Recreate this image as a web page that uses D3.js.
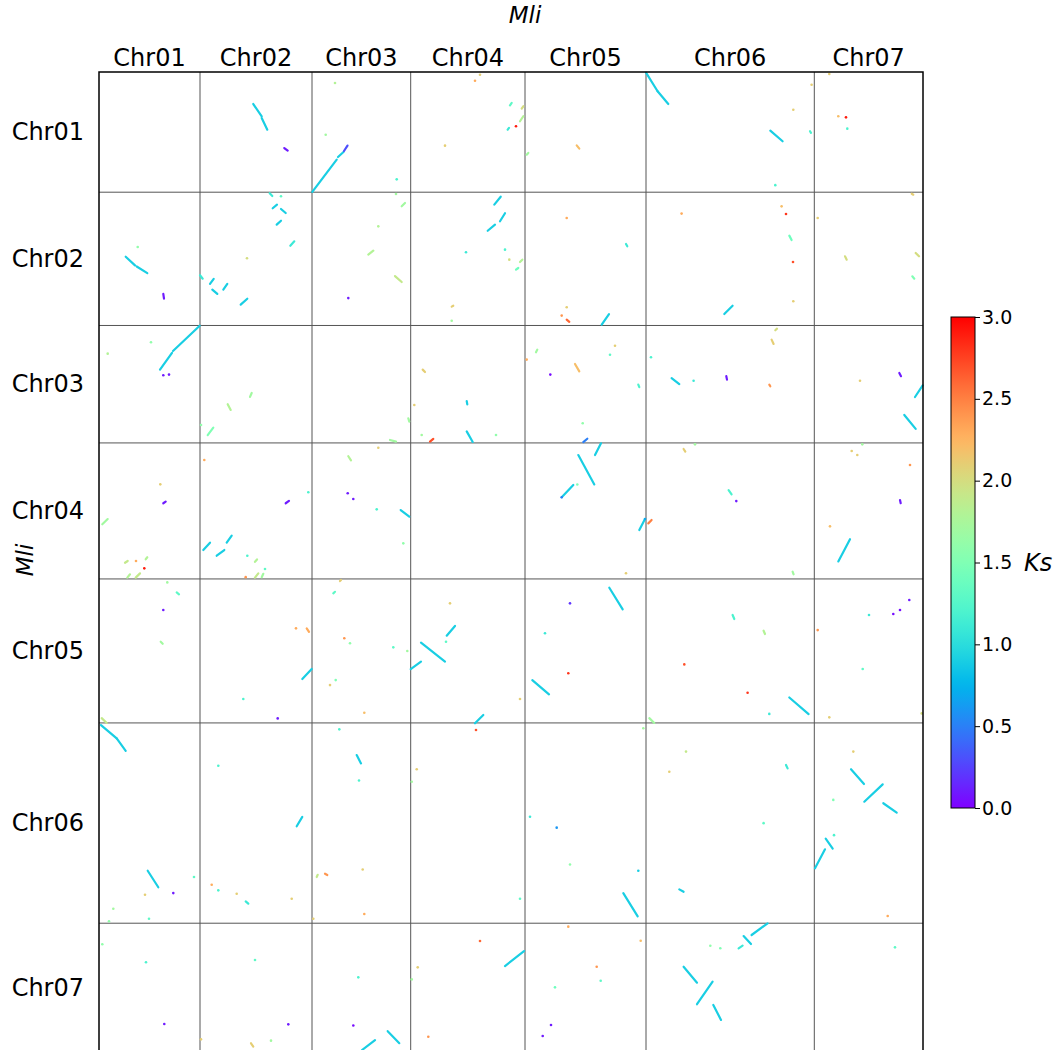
<!DOCTYPE html>
<html>
<head>
<meta charset="utf-8">
<script src="https://cdn.jsdelivr.net/npm/d3@7"></script>
<style>
  body { margin: 0; background: #fff; }
  text { font-family: "DejaVu Sans", sans-serif; fill: #000; }
</style>
</head>
<body>
<div id="chart"></div>
<script>
// Chromosomes of Mli (same order on both axes), lengths in genome units.
const chromosomes = ["Chr01", "Chr02", "Chr03", "Chr04", "Chr05", "Chr06", "Chr07"];
const chrLengths = [101, 112, 98.7, 114.3, 121, 168.3, 108.7];
const ksTicks = [0, 0.5, 1, 1.5, 2, 2.5, 3];

// Collinear blocks: [x chr, y chr, x start, y start, x end, y end, Ks]
const blocks = [
  [2,1,53.3,26.9,61.7,37.2,0.9],[2,1,61.7,38.7,67.3,48.5,0.9],[2,1,84.3,63.9,87.7,66.1,0.1],
  [3,1,0.3,100.8,24.7,73.7,0.9],[3,1,26,71.4,31.5,67.2,0.9],[3,1,32,66.4,35.5,61.8,0.3],
  [4,1,99.3,28,101,26,1.3],[4,1,111,30.8,112.6,28.8,2.0],[4,1,109.3,41.4,112.6,37.2,1.8],[4,1,97,48.5,98.3,47,1.1],
  [5,1,51.7,61.6,54.3,64.4,2.2],[5,1,1.7,69.5,3.3,68,1.7],
  [6,1,0,0.5,11.6,16.2,0.9],[6,1,11.6,16.2,22.3,26.9,0.9],[6,1,124.3,49.3,136.6,58.2,0.9],[6,1,164,49.8,165,51.2,1.2],
  [1,2,26.7,54.2,36,61.5,0.9],[1,2,37.7,62.4,48.3,68,0.9],[1,2,64.3,85.5,65,89.5,0.1],
  [2,2,69.7,0.9,72.3,3.2,1.1],[2,2,72.7,13.5,77,10.5,0.9],[2,2,81,14.1,85.7,17.5,0.9],[2,2,76.7,27.3,81,24,0.9],
  [2,2,90.3,45,94.3,41.3,1.1],[2,2,0,69.8,2.7,72.7,1.1],[2,2,10,77.1,13.7,72.9,0.9],[2,2,12.3,81.9,17.3,85.5,0.9],
  [2,2,23.3,81.9,27.3,77.1,0.9],[2,2,40.7,94.5,47.3,89.5,0.9],
  [3,2,56.3,52.5,61.3,49.2,1.8],[3,2,89.7,11.8,93,9.1,1.7],[3,2,83,70.5,89.7,75.5,1.9],
  [4,2,83.6,10.5,90,3.8,0.9],[4,2,89.3,24.4,94.3,17.7,0.9],[4,2,77,32.4,84.3,27.3,0.9],
  [4,2,109.3,58.7,111.6,56.7,1.8],[4,2,105.3,65.1,107.6,63.7,1.4],[4,2,41,96.2,42.6,95.4,2.1],
  [5,2,101,43.5,102.3,45.5,1.1],[5,2,41.7,107.1,44.3,109,2.6],[5,2,76.7,111.3,84,102.4,0.9],
  [6,2,143.3,36.5,145.6,40.2,1.4],[6,2,78.3,102.4,86.6,95.4,0.9],
  [7,2,97.4,1.3,99,2.1,2.1],[7,2,30.7,53.9,32.4,56.7,2.0],[7,2,101.4,51.1,104.7,53.9,2.0],[7,2,98,70.7,100,72.7,1.5],
  [1,3,61,37.1,73,23,0.9],[1,3,74,21.5,100.7,0.2,0.9],
  [2,3,27.7,66.2,30.7,71,1.8],[2,3,50,60,51.7,56.7,1.7],[2,3,7.7,92.1,13.3,85.9,1.5],
  [3,3,96.3,78,97.3,80.8,1.7],[3,3,78,96.2,84,97.6,1.7],
  [4,3,12,37.1,14.3,39.1,2.1],[4,3,19.3,97.6,22.6,95.3,2.7],[4,3,56,63.5,56.6,66.3,0.9],[4,3,56,89,62,97.9,0.9],
  [5,3,11,22.5,12.3,20.3,1.7],[5,3,50,32.4,54.3,38.6,2.2],[5,3,113.3,49.7,114.3,51.9,1.2],[5,3,58.3,98,62.3,95.2,0.5],
  [6,3,129.3,4,131,2.7,2.0],[6,3,125.6,11.9,127.6,15.5,2.1],[6,3,25.6,44.2,33.3,49.2,0.9],[6,3,80.3,42.6,81,45.5,0.1],
  [6,3,123.3,49.7,124.3,51.1,2.4],
  [7,3,85,39.9,86.7,42.6,0.1],[7,3,100.7,60.1,108.4,50.4,0.9],[7,3,90,75.2,101.4,86.9,0.9],
  [1,4,64.3,50.7,66.7,49.3,0.1],[1,4,3.3,68.4,8.7,64,1.7],[1,4,26,100.7,28.7,99.2,1.9],[1,4,46.7,97.8,48.3,96.1,1.8],
  [1,4,28.3,113.2,31,110.4,1.8],[1,4,36.7,113.2,41,109.6,1.9],
  [2,4,85.7,50.7,89,48.7,0.1],[2,4,3.3,90,10,83.8,0.9],[2,4,16.7,94.8,24.3,90,0.9],[2,4,26.7,83.8,31.7,77.9,0.9],
  [2,4,55,99.9,57,97.9,1.8],[2,4,55,113.2,58.3,109.6,1.9],[2,4,61.7,112.8,63.3,110,1.7],
  [3,4,36.3,11.2,39,14.6,1.8],[3,4,88.7,56.4,97.3,62,0.9],
  [5,4,70,10.2,76,0.3,0.9],[5,4,53.3,10.2,69.3,34.9,0.9],[5,4,36.7,45.7,48.3,35.3,0.9],[5,4,114.3,73.2,120,64,0.9],
  [6,4,2.3,67.6,5.6,64.8,2.5],[6,4,37.6,5.1,39.3,7.3,2.1],[6,4,82.6,39.6,85.6,43.2,1.2],[6,4,146.6,108.2,147.6,110.4,1.7],
  [7,4,85.7,48,86.4,50.7,0.1],[7,4,24,99.6,35.7,80.9,0.9],
  [1,5,77.7,11.3,80,12.9,1.3],[1,5,61.7,52.8,63.7,54.5,1.7],[1,5,2.7,117,7.7,121,1.9],
  [2,5,106.7,41.5,109,44.4,2.3],[2,5,102.3,84.1,111.7,75.7,0.9],
  [3,5,28,1.8,29,0.9,2.1],[3,5,21.3,12.1,23,10.8,1.3],
  [4,5,36,47.7,44.3,39.5,0.9],[4,5,10.3,53.6,34.3,69.5,0.9],[4,5,0,75.7,10.3,69.5,0.9],[4,5,64.3,121.3,72.6,114.3,0.9],
  [5,5,84.3,7.4,97.7,25.6,0.9],[5,5,7.3,85,24,97,0.9],
  [6,5,86.6,30.3,88.3,33.7,1.2],[6,5,117.6,43.5,119,46.3,1.8],[6,5,143.3,99.6,162.6,113.6,0.9],[6,5,3.3,117,8.3,121,1.7],
  [1,6,2,1.8,17.7,13,0.9],[1,6,17.7,13,26.7,23.4,0.9],[1,6,48.7,124.2,59.3,138.1,0.9],
  [2,6,96.7,86.8,102.3,79,0.9],[2,6,45.7,150,48.3,151.9,1.1],
  [3,6,44.7,27,49,34,0.9],[3,6,4.7,129.5,5.7,127.6,1.9],[3,6,13,126.7,15.3,127.8,2.4],
  [5,6,98.3,143,112.7,162.6,0.9],
  [6,6,140,35.3,141.6,38.2,1.1],[6,6,33.3,139.9,37.6,141.9,0.9],
  [7,6,36.7,38.9,49.7,51.3,0.9],[7,6,50,66.2,68.4,51.6,0.9],[7,6,69,67.5,82.4,75.4,0.9],
  [7,6,11.4,97.3,18.4,105.7,0.9],[7,6,0.7,122.2,10.7,106.2,0.9],
  [2,7,51,100.9,53.3,103.7,2.1],
  [3,7,75.7,90.7,87.3,100.8,0.9],[3,7,50,106.6,63,98.2,0.9],
  [4,7,94.3,36,113.3,23.4,0.9],
  [6,7,105.6,9.9,121.6,0.1,0.9],[6,7,97.6,10.8,105,17.5,0.9],[6,7,92.6,21.1,96.6,18.9,1.1],
  [6,7,37.6,36.6,51,50,0.9],[6,7,51,68.1,66.6,49.1,0.9],[6,7,67.3,68.7,75,81.3,0.9]
];

// Short hits: [x chr, y chr, x pos, y pos, Ks]
const hits = [
  [3,1,23,9.2,1.8],[3,1,13.7,52.7,1.7],[3,1,84.7,90.2,1.2],
  [4,1,64.3,7.3,2.3],[4,1,69.3,2.3,2.1],[4,1,105.3,45.6,2.9],[4,1,34.3,61.9,2.1],
  [6,1,147.3,31.7,2.1],[6,1,165.6,10.7,2.1],[6,1,129.3,95.1,1.2],
  [7,1,15,1.7,2.1],[7,1,24,37.2,2.2],[7,1,31.7,38.1,2.9],[7,1,33,47.6,1.2],
  [1,2,38.7,46,1.6],
  [2,2,81,3.4,1.3],[2,2,47,55.5,2.0],
  [3,2,36.3,89,0.1],[3,2,84,1.5,1.7],[3,2,66.3,28.7,1.8],
  [4,2,55.3,50.5,1.1],[4,2,94.3,48.3,1.2],[4,2,98.6,56.7,2.0],[4,2,41,108,1.7],
  [5,2,41.7,21.7,2.3],[5,2,41.7,96.7,2.1],[5,2,36.7,103.7,2.4],
  [6,2,35.6,18,2.3],[6,2,135.6,11.9,2.2],[6,2,140,18.3,2.8],[6,2,147,58.7,2.7],[6,2,147.3,91.7,2.1],
  [7,2,3.4,21.7,2.1],
  [1,3,64.3,41.8,0.1],[1,3,70,41.3,0.1],[1,3,52,14.1,1.6],[1,3,8.7,23.7,1.8],
  [2,3,1,83.6,1.6],
  [4,3,11,92.1,1.7],[4,3,3.6,66.8,2.1],[4,3,85.3,92.1,1.6],
  [5,3,1.7,28.7,2.3],[5,3,25.3,41.3,0.05],[5,3,90,17,2.1],[5,3,85,24.6,1.3],[5,3,57.7,82.2,1.6],
  [6,3,5,26.7,1.2],[6,3,47.6,46.4,1.1],
  [7,3,45.7,46.4,2.1],
  [1,4,61.3,34.8,2.1],[1,4,37,99.2,2.3],[1,4,45.3,105.4,2.9],
  [2,4,4.3,14.4,2.3],[2,4,108.3,41.5,1.2],[2,4,47.3,94.8,1.2],[2,4,65,105.9,1.3],[2,4,45.7,112.8,2.4],
  [3,4,35.7,42.3,0.1],[3,4,41.3,47.1,0.1],[3,4,64.7,55.8,1.2],[3,4,91.3,84.4,1.6],[3,4,66.3,4,2.1],
  [5,4,52.3,34.9,1.5],[5,4,36.7,45.7,0.5],[5,4,120,64,0.7],[5,4,101,109.5,2.1],
  [6,4,49,1.2,1.7],[6,4,90.3,48.9,0.1],
  [7,4,37.4,6.8,2.1],[7,4,43,10.2,2.1],[7,4,48,1.2,1.7],[7,4,95.7,18.6,2.4],[7,4,15.7,70.1,2.2],
  [1,5,68.3,2.9,1.7],[1,5,64.3,26.1,0.1],
  [2,5,96,41.5,2.3],[2,5,43.3,100.9,1.2],[2,5,77.7,117.2,0.1],
  [3,5,32.3,49.9,2.4],[3,5,38,54.1,1.6],[3,5,18,89.2,2.1],[3,5,23.7,85,1.5],[3,5,52.3,112.4,2.2],
  [3,5,81.3,57.5,1.3],[3,5,95.3,60.6,1.7],
  [4,5,39.3,20.5,2.1],[4,5,35.3,52.8,1.3],[4,5,109.3,100.9,2.1],
  [5,5,45,20.5,0.2],[5,5,20,45.7,1.1],[5,5,43.3,79.3,2.8],
  [6,5,38.3,71.8,2.7],[6,5,101.6,95.6,2.8],[6,5,123.3,113.4,1.1],
  [7,5,95,17.7,0.1],[7,5,85.7,26.1,0.05],[7,5,79,29.5,0.05],[7,5,54.7,30.3,1.1],[7,5,3.4,43,2.4],
  [7,5,48.4,75.7,1.3],[7,5,15,116.3,2.1],[7,5,107.4,113,2.0],
  [1,6,95,129.5,1.3],[1,6,46,144.4,2.1],[1,6,74.3,143,0.1],[1,6,14.3,156.1,1.7],[1,6,10,166.7,1.6],[1,6,50,164.5,1.3],
  [2,6,18.3,36,1.2],[2,6,11.7,136,2.3],[2,6,18.3,140.7,1.2],[2,6,36.7,143.5,2.1],[2,6,91.7,147.7,2.1],
  [3,6,27.3,5.4,1.2],[3,6,47,48.4,1.2],[3,6,50.7,123.2,2.1],[3,6,52.3,160.6,2.3],[3,6,1.3,164.5,2.1],
  [4,6,65.3,6,2.7],[4,6,6,38.9,2.1],[4,6,1,49.4,1.7],[4,6,109.3,147.7,1.3],
  [5,6,5,78.8,1.1],[5,6,31.7,88,0.6],[5,6,45,119,1.6],[5,6,113.3,124.2,0.9],[5,6,118.3,4.5,1.7],
  [6,6,40,24.1,1.9],[6,6,23.3,41,2.1],[6,6,117.6,84.2,1.3],
  [7,6,39,24.1,2.1],[7,6,19,64.7,1.5],[7,6,19.7,94.3,1.2],[7,6,73.4,162.2,2.3],
  [1,7,3.3,17.7,1.6],[1,7,47,32.8,1.2],[1,7,65.3,84.7,0.1],
  [2,7,55,30.9,1.3],[2,7,88.3,85,0.1],[2,7,1,97.6,2.1],[2,7,71,98.7,1.7],
  [3,7,46.3,45.5,1.2],[3,7,41.3,85.9,0.05],
  [4,7,69.3,15,2.6],[4,7,7,37.1,2.1],[4,7,1,47.2,1.7],[4,7,17.6,95.4,2.4],
  [5,7,43.3,2.9,2.3],[5,7,115.7,14.7,2.2],[5,7,71.7,36.6,2.4],[5,7,75.7,48.4,1.3],[5,7,30,53.9,1.4],
  [5,7,26,85.5,0.1],[5,7,17.7,94.8,0.1],
  [6,7,64.3,18.9,1.6],[6,7,74.3,21.1,1.5],
  [7,7,80.7,20.3,1.3]
];

const width = 1060;
const height = 1050;

// matplotlib "rainbow" colormap
function rainbow(t) {
    const c = v => Math.round(255 * Math.max(0, Math.min(1, v)));
    return d3.rgb(c(Math.abs(2 * t - 0.5)), c(Math.sin(Math.PI * t)), c(Math.cos(Math.PI * t / 2))).formatHex();
}
const color = d3.scaleSequential(rainbow).domain([0, 3]);

// cumulative offsets of each chromosome
const offsets = [0];
chrLengths.forEach((l, i) => offsets.push(offsets[i] + l));
const total = offsets[offsets.length - 1];

const x = d3.scaleLinear().domain([0, total]).range([99, 923]);
const y = d3.scaleLinear().domain([0, total]).range([72, 72 + total * 1.19]);
const gx = (c, p) => x(offsets[c - 1] + p);
const gy = (r, p) => y(offsets[r - 1] + p);

const svg = d3.create("svg")
    .attr("width", width)
    .attr("height", height);

svg.append("rect").attr("width", width).attr("height", height).attr("fill", "#fff");

// Grid lines between chromosomes
const grid = svg.append("g");
grid.selectAll("line.v")
    .data(offsets.slice(1, -1))
    .join("line")
        .attr("x1", d => x(d)).attr("x2", d => x(d))
        .attr("y1", y(0)).attr("y2", y(total))
        .attr("stroke", "#555").attr("stroke-width", 1);
grid.selectAll("line.h")
    .data(offsets.slice(1, -1))
    .join("line")
        .attr("x1", x(0)).attr("x2", x(total))
        .attr("y1", d => y(d)).attr("y2", d => y(d))
        .attr("stroke", "#555").attr("stroke-width", 1);

// Blocks
svg.append("g")
    .selectAll("line")
    .data(blocks)
    .join("line")
        .attr("x1", d => gx(d[0], d[2]))
        .attr("y1", d => gy(d[1], d[3]))
        .attr("x2", d => gx(d[0], d[4]))
        .attr("y2", d => gy(d[1], d[5]))
        .attr("stroke", d => color(d[6]))
        .attr("stroke-width", 2.2)
        .attr("stroke-linecap", "round");

// Short hits
svg.append("g")
    .selectAll("circle")
    .data(hits)
    .join("circle")
        .attr("cx", d => gx(d[0], d[2]))
        .attr("cy", d => gy(d[1], d[3]))
        .attr("r", 1.3)
        .attr("fill", d => color(d[4]));

// Frame
svg.append("rect")
    .attr("x", x(0)).attr("y", y(0))
    .attr("width", x(total) - x(0)).attr("height", y(total) - y(0))
    .attr("fill", "none").attr("stroke", "#000").attr("stroke-width", 1.5);

// Chromosome labels
svg.append("g")
    .selectAll("text")
    .data(chromosomes)
    .join("text")
        .attr("x", (d, i) => x(offsets[i] + chrLengths[i] / 2))
        .attr("y", 66)
        .attr("text-anchor", "middle")
        .attr("font-size", 24)
        .text(d => d);

svg.append("g")
    .selectAll("text")
    .data(chromosomes)
    .join("text")
        .attr("x", 84)
        .attr("y", (d, i) => y(offsets[i] + chrLengths[i] / 2))
        .attr("text-anchor", "end")
        .attr("dominant-baseline", "central")
        .attr("font-size", 24)
        .text(d => d);

// Axis titles
svg.append("text")
    .attr("x", 525).attr("y", 23)
    .attr("text-anchor", "middle")
    .attr("font-size", 23).attr("font-style", "italic")
    .text("Mli");

svg.append("text")
    .attr("transform", "translate(33,560) rotate(-90)")
    .attr("text-anchor", "middle")
    .attr("font-size", 23).attr("font-style", "italic")
    .text("Mli");

// Colorbar
const cb = { x: 951, w: 24, top: 317, bottom: 808 };
const cy = d3.scaleLinear().domain([0, 3]).range([cb.bottom, cb.top]);

const grad = svg.append("defs").append("linearGradient")
    .attr("id", "ksgrad")
    .attr("x1", 0).attr("y1", 1).attr("x2", 0).attr("y2", 0);
grad.selectAll("stop")
    .data(d3.range(0, 1.0001, 0.02))
    .join("stop")
        .attr("offset", d => d)
        .attr("stop-color", d => color(d * 3));

svg.append("rect")
    .attr("x", cb.x).attr("y", cb.top)
    .attr("width", cb.w).attr("height", cb.bottom - cb.top)
    .attr("fill", "url(#ksgrad)")
    .attr("stroke", "#000").attr("stroke-width", 1);

const cbAxis = svg.append("g")
    .attr("transform", `translate(${cb.x + cb.w},0)`)
    .call(d3.axisRight(cy).tickValues(ksTicks).tickFormat(d3.format(".1f")).tickSize(5).tickPadding(2));
cbAxis.select(".domain").remove();
cbAxis.selectAll("line").attr("stroke", "#000");
cbAxis.selectAll("text")
    .attr("font-size", 19)
    .attr("font-family", "DejaVu Sans, sans-serif")
    .attr("fill", "#000");

svg.append("text")
    .attr("x", 1024).attr("y", 563)
    .attr("dominant-baseline", "central")
    .attr("font-size", 24).attr("font-style", "italic")
    .text("Ks");

document.getElementById("chart").appendChild(svg.node());
</script>
</body>
</html>
